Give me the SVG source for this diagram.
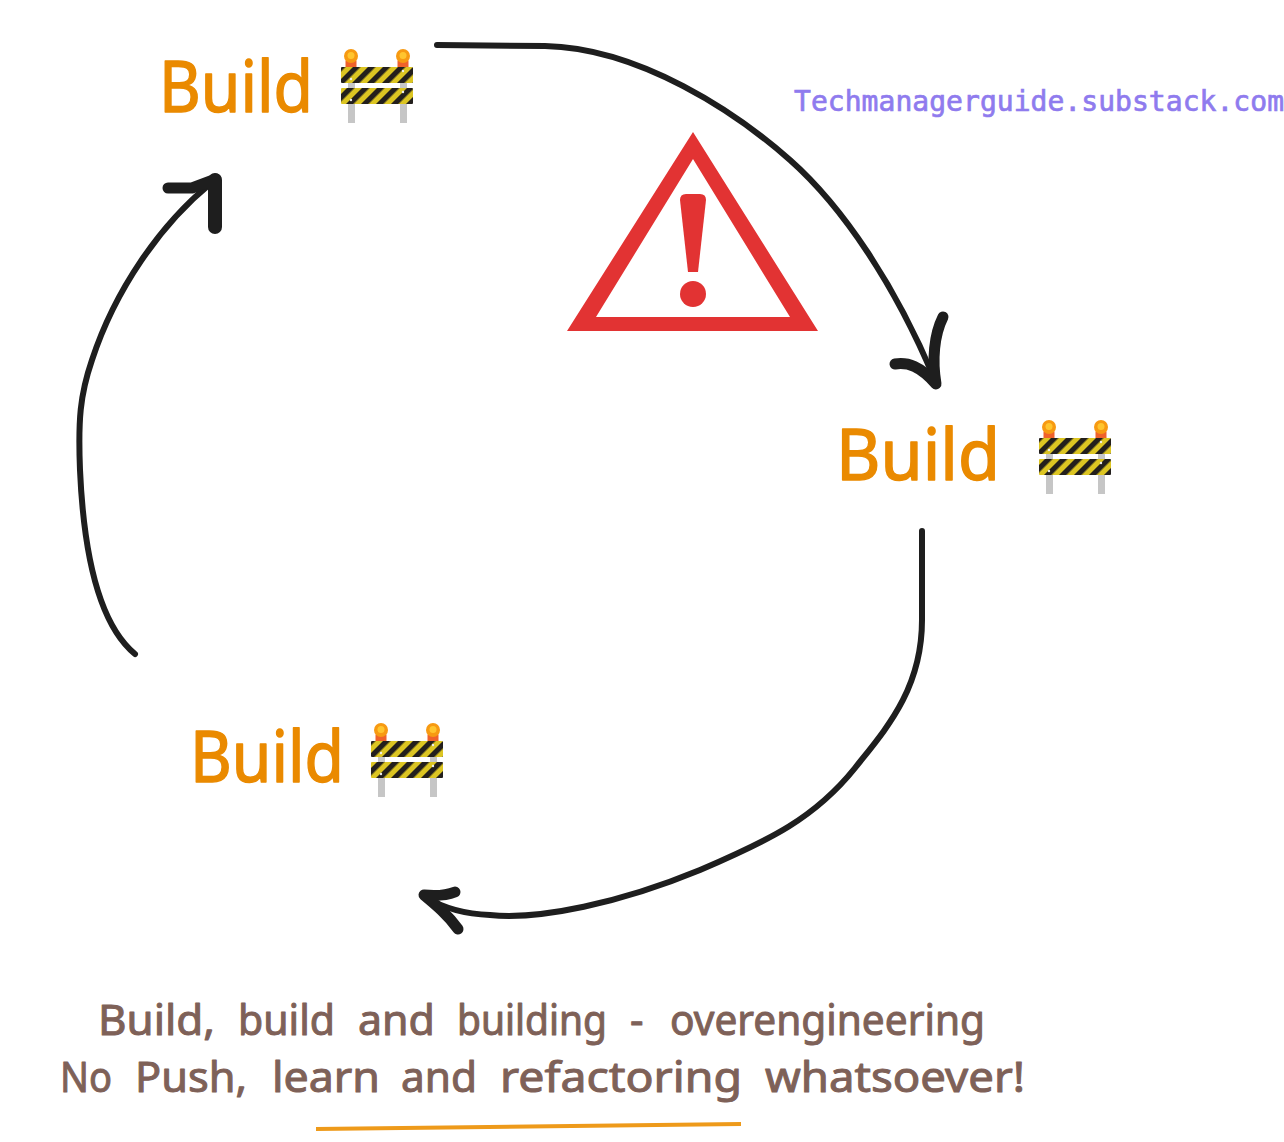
<svg xmlns="http://www.w3.org/2000/svg" width="1284" height="1142" viewBox="0 0 1284 1142">
<style>
.build{font-family:"Noto Sans","Liberation Sans",sans-serif;font-size:72px;fill:#ea8a00;stroke:#ea8a00;stroke-width:1.5px;stroke-linejoin:round}
.cap{font-family:"Noto Sans","Liberation Sans",sans-serif;font-size:42px;fill:#7e6158;stroke:#7e6158;stroke-width:1px;stroke-linejoin:round}
.mark{font-family:"DejaVu Sans Mono","Liberation Mono",monospace;font-size:28px;fill:#8f7bee;stroke:#8f7bee;stroke-width:.7px}
.shaft{fill:none;stroke:#1e1e1e;stroke-width:6;stroke-linecap:round;stroke-linejoin:round}
.head{fill:none;stroke:#1e1e1e;stroke-width:11;stroke-linecap:round;stroke-linejoin:round}
</style>
<defs>
<pattern id="stripes" width="10.6" height="10.6" patternUnits="userSpaceOnUse" patternTransform="rotate(45)">
<rect width="10.6" height="10.6" fill="#dcc522"/>
<rect width="5.3" height="10.6" fill="#231f1c"/>
</pattern>
<symbol id="barrier" width="72" height="74" viewBox="0 0 72 74" overflow="visible">
<rect x="7" y="30" width="7" height="44" fill="#c6c6c6"/>
<rect x="59" y="30" width="7" height="44" fill="#c6c6c6"/>
<rect x="4.5" y="11" width="11" height="8" rx="1" fill="#f0622a"/>
<rect x="56.5" y="11" width="11" height="8" rx="1" fill="#f0622a"/>
<circle cx="10" cy="7" r="7" fill="#f79a12"/>
<circle cx="62" cy="7" r="7" fill="#f79a12"/>
<circle cx="10" cy="6.5" r="3.5" fill="#ffc52e"/>
<circle cx="62" cy="6.5" r="3.5" fill="#ffc52e"/>
<rect x="0" y="18" width="72" height="16" rx="1" fill="url(#stripes)"/>
<rect x="0" y="39" width="72" height="16" rx="1" fill="url(#stripes)"/>
<circle cx="10" cy="30" r="1.2" fill="#eee"/>
<circle cx="62" cy="22" r="1.2" fill="#eee"/>
<circle cx="10" cy="51" r="1.2" fill="#eee"/>
<circle cx="62" cy="43" r="1.2" fill="#eee"/>
</symbol>
</defs>
<rect width="1284" height="1142" fill="#ffffff"/>
<g id="connectors">
<g id="edge-top-right">
<path class="shaft" d="M437 45 L545 46 C640 48 737 113 790 160 C843 207 895 285 934 378"/>
<path class="head" d="M895 364 C908 362 920 366 936 384 C932 360 934 335 943 317"/>
</g>
<g id="edge-right-bottom">
<path class="shaft" d="M922 531 L922 620 C922 690 885 730 855 768 C815 818 770 840 700 870 C620 903 540 920 490 915 C460 914 440 906 425 897"/>
<path class="head" d="M455 892 C445 896 435 896 424 895 C436 905 448 915 458 929"/>
</g>
<g id="edge-bottom-top">
<path class="shaft" d="M135 654 C100 625 84 560 80 470 C78 420 80 395 92 360 C115 290 160 225 210 184"/>
<path class="head" d="M168 188 L192 188 L216 179"/>
<path class="head" d="M215 180 L215 227" style="stroke-width:14"/>
</g>
</g>
<g id="build-top">
<text class="build" x="159" y="112" textLength="154" lengthAdjust="spacingAndGlyphs">Build</text>
<use href="#barrier" x="341" y="49" width="72" height="74"/>
</g>
<g id="build-right">
<text class="build" x="836" y="480" textLength="164" lengthAdjust="spacingAndGlyphs">Build</text>
<use href="#barrier" x="1039" y="420" width="72" height="74"/>
</g>
<g id="build-bottom">
<text class="build" x="190" y="782" textLength="154" lengthAdjust="spacingAndGlyphs">Build</text>
<use href="#barrier" x="371" y="723" width="72" height="74"/>
</g>
<g id="warning">
<path fill="#e23333" fill-rule="evenodd" d="M693 132 L818 331 L567 331 Z M693 159 L596 317 L790 317 Z"/>
<path fill="#e23333" d="M680 200 Q680 194 686 194 L700 194 Q706 194 706 200 L698 272 L688 272 Z"/>
<circle cx="693" cy="294" r="13" fill="#e23333"/>
</g>
<g id="watermark">
<text class="mark" x="794" y="111" textLength="490" lengthAdjust="spacing">Techmanagerguide.substack.com</text>
</g>
<g id="caption">
<text class="cap" y="1035"><tspan x="98" textLength="117" lengthAdjust="spacingAndGlyphs">Build,</tspan> <tspan x="238" textLength="97" lengthAdjust="spacingAndGlyphs">build</tspan> <tspan x="358" textLength="77" lengthAdjust="spacingAndGlyphs">and</tspan> <tspan x="457" textLength="150" lengthAdjust="spacingAndGlyphs">building</tspan> <tspan x="630">-</tspan> <tspan x="670" textLength="315" lengthAdjust="spacingAndGlyphs">overengineering</tspan></text>
<text class="cap" y="1092"><tspan x="60" textLength="52" lengthAdjust="spacingAndGlyphs">No</tspan> <tspan x="135" textLength="112" lengthAdjust="spacingAndGlyphs">Push,</tspan> <tspan x="272" textLength="108" lengthAdjust="spacingAndGlyphs">learn</tspan> <tspan x="401" textLength="76" lengthAdjust="spacingAndGlyphs">and</tspan> <tspan x="500" textLength="242" lengthAdjust="spacingAndGlyphs">refactoring</tspan> <tspan x="765" textLength="260" lengthAdjust="spacingAndGlyphs">whatsoever!</tspan></text>
<path d="M316 1129 L741 1124" fill="none" stroke="#ee9a1a" stroke-width="4" stroke-linecap="butt"/>
</g>
</svg>
